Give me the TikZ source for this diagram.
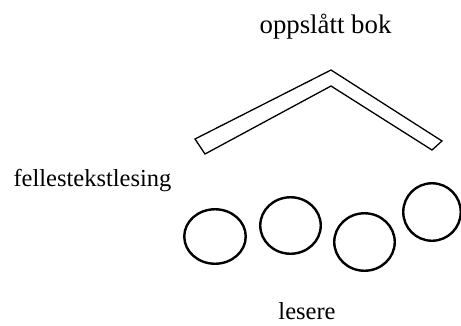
\documentclass[tikz,border=0pt]{standalone}
\usepackage{fontspec}
\setmainfont{Liberation Serif}
\usetikzlibrary{shapes.geometric}
\begin{document}
\begin{tikzpicture}[x=1bp,y=-1bp,
  lbl/.style={anchor=base,inner sep=0pt,font=\fontsize{24.5bp}{28bp}\selectfont},
  reader/.style={ellipse,draw=black,line width=2.4bp,inner sep=0pt},
  book/.style={draw=black,line width=1.3bp,line join=miter}]
\useasboundingbox (0,0) rectangle (461,325);
\fill[white] (0,0) rectangle (461,325);
\node[lbl,font=\fontsize{26.8bp}{30bp}\selectfont] (title) at (325.5,33) {oppslått bok};
\node[lbl] (side) at (92.5,186) {fellestekstlesing};
\node[lbl] (readers) at (307,319.5) {lesere};
\coordinate (b1) at (195,139);
\coordinate (b2) at (331,70);
\coordinate (b3) at (442,141);
\coordinate (b4) at (432,150);
\coordinate (b5) at (331,86);
\coordinate (b6) at (205,154);
\draw[book] (b1) -- (b2) -- (b3) -- (b4) -- (b5) -- (b6) -- cycle;
\node[reader,minimum width=61.5bp,minimum height=54.5bp] (r1) at (215,236.5) {};
\node[reader,minimum width=60.5bp,minimum height=56.5bp] (r2) at (290.5,225.5) {};
\node[reader,minimum width=60.5bp,minimum height=57.5bp] (r3) at (364.5,242) {};
\node[reader,minimum width=57.5bp,minimum height=57.5bp] (r4) at (432,212) {};
\end{tikzpicture}
\end{document}
